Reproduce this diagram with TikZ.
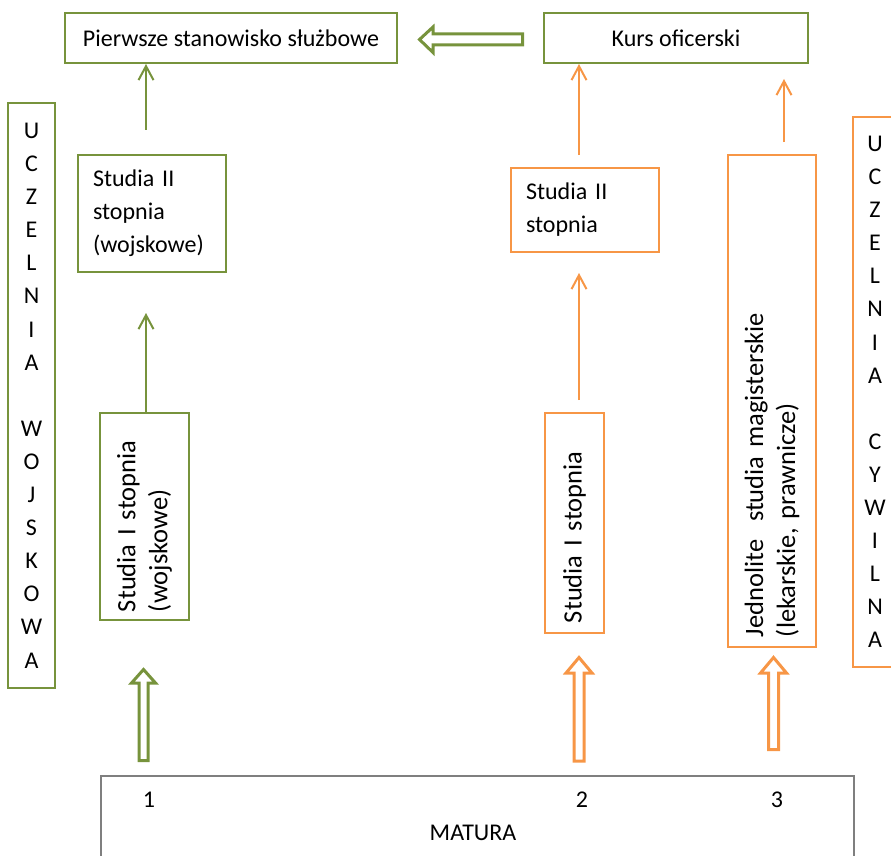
\documentclass[tikz,border=0pt]{standalone}
\usepackage{fontspec}
\setmainfont{Carlito}
\usetikzlibrary{arrows.meta}

\definecolor{milgreen}{HTML}{77933C}
\definecolor{civorange}{HTML}{F79646}
\definecolor{basegray}{HTML}{7F7F7F}

\tikzset{
  box/.style={draw, line width=2pt, inner sep=0pt, font=\fontsize{24}{33}\selectfont},
  gbox/.style={box, draw=milgreen},
  obox/.style={box, draw=civorange},
  vbox/.style={inner sep=0pt, rotate=90, align=left, font=\fontsize{26.5}{32}\selectfont},
  letters/.style={align=center, font=\fontsize{24}{33.1}\selectfont},
  link/.style={line width=2pt, -{Straight Barb[length=14pt, width=15pt]}},
  glink/.style={link, draw=milgreen},
  olink/.style={link, draw=civorange},
  block/.style={line width=3pt, line join=miter, fill=white},
  label/.style={inner sep=0pt, font=\fontsize{24}{28}\selectfont},
}

\begin{document}
\begin{tikzpicture}[x=1pt, y=-1pt]
\useasboundingbox (0,0) rectangle (891,856);
\clip (0,0) rectangle (891,856);

% top row
\node[gbox, minimum width=332, minimum height=50] (pierwsze) at (231,38) {Pierwsze stanowisko służbowe};
\node[gbox, minimum width=264, minimum height=50] (kurs) at (676,38) {Kurs oficerski};

% side labels
\node[gbox, letters, minimum width=47, minimum height=585] (uw) at (31.5,395.5)
  {U\\C\\Z\\E\\L\\N\\I\\A\\[33.1pt]W\\O\\J\\S\\K\\O\\W\\A};
\node[obox, letters, minimum width=44, minimum height=550] (uc) at (875,392)
  {U\\C\\Z\\E\\L\\N\\I\\A\\[33.1pt]C\\Y\\W\\I\\L\\N\\A};

% military path
\node[gbox, minimum width=148, minimum height=117, text width=118, align=left] (s2w) at (152,213.5)
  {Studia II\\stopnia\\(wojskowe)};
\node[gbox, vbox, minimum width=207, minimum height=89, text width=191] (s1w) at (144.5,516.5)
  {Studia I stopnia\\(wojskowe)};

% civilian paths
\node[obox, minimum width=148, minimum height=84, text width=118, align=left] (s2c) at (585,210)
  {Studia II\\stopnia};
\node[obox, vbox, minimum width=220, minimum height=59, text width=200] (s1c) at (574.5,523)
  {Studia I stopnia};
\node[obox, vbox, minimum width=492, minimum height=88, text width=472] (jed) at (772,401)
  {Jednolite\ \ studia magisterskie\\(lekarskie, prawnicze)};

% matura
\node[draw=basegray, line width=2pt, minimum width=753, minimum height=100, anchor=north west] (matura) at (100,775) {};
\node[label] (n1) at (149,800) {1};
\node[label] (n2) at (582,800) {2};
\node[label] (n3) at (777,800) {3};
\node[label] (mat) at (473,833) {MATURA};

% thin connectors
\coordinate (g1) at (146,130);
\coordinate (g2) at (146,413);
\coordinate (g2t) at (146,313);
\coordinate (o1) at (579,155);
\coordinate (o2) at (579,400);
\coordinate (o2t) at (579,273);
\coordinate (o3) at (784,142);
\coordinate (o3t) at (784,79);
\draw[glink] (g1) -- (g1 |- pierwsze.south);
\draw[glink] (g2) -- (g2t);
\draw[olink] (o1) -- (o1 |- kurs.south);
\draw[olink] (o2) -- (o2t);
\draw[olink] (o3) -- (o3t);

% hollow block arrows
\draw[block, draw=milgreen] (522.5,34) -- (433,34) -- (433,27) -- (419.5,39.5) -- (433,52.5) -- (433,45) -- (522.5,45) -- cycle;
\draw[block, draw=milgreen] (139,760.5) -- (139,683) -- (131.5,683) -- (143.5,669.5) -- (155.5,683) -- (148,683) -- (148,760.5) -- cycle;
\draw[block, draw=civorange] (574,761) -- (574,673) -- (566,673) -- (579,657.5) -- (592,673) -- (584,673) -- (584,761) -- cycle;
\draw[block, draw=civorange] (768.5,749.5) -- (768.5,673) -- (760.5,673) -- (773.5,657.5) -- (786.5,673) -- (778.5,673) -- (778.5,749.5) -- cycle;
\end{tikzpicture}
\end{document}
